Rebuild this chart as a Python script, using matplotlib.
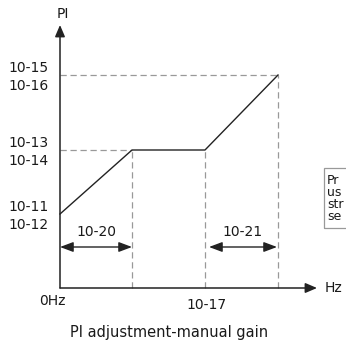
import matplotlib
matplotlib.use("Agg")
import matplotlib.pyplot as plt

plt.rcParams['font.family'] = ['DejaVu Sans']

# Curve break points (x: output frequency, y: PI value), schematic units
freq = [0, 72, 145, 218]
pi_val = [74, 138, 138, 213]

# y-axis labels (two per level) and x-axis labels
y_labels = [("10-11", "10-12"), ("10-13", "10-14"), ("10-15", "10-16")]
y_levels = [74, 138, 213]
x_labels = ["0Hz", "10-17"]
x_label_pos = [-8, 146]
span_labels = ["10-20", "10-21"]
span_ranges = [(0, 72), (149, 217)]

fig = plt.figure(figsize=(3.46, 3.43), dpi=100)
ax = fig.add_axes([0, 0, 1, 1])
ax.set_xlim(-60, 286)
ax.set_ylim(-55, 288)
ax.axis("off")

fs = 10
tc = "#1a1a1a"

# axes with arrows
ax.annotate("", xy=(0, 263), xytext=(0, 0),
            arrowprops=dict(arrowstyle="-|>,head_width=0.3,head_length=0.7",
                            color="#222222", lw=1.1, shrinkA=0, shrinkB=0))
ax.annotate("", xy=(257, 0), xytext=(0, 0),
            arrowprops=dict(arrowstyle="-|>,head_width=0.3,head_length=0.7",
                            color="#222222", lw=1.1, shrinkA=0, shrinkB=0))
ax.text(3, 274, "PI", fontsize=fs, color=tc, ha="center", va="center")
ax.text(265, 0, "Hz", fontsize=fs, color=tc, ha="left", va="center")

# dashed guide lines
dash = dict(color="#999999", lw=0.9, linestyle=(0, (5, 3)))
ax.plot([0, freq[1]], [pi_val[1], pi_val[1]], **dash)
ax.plot([0, freq[3]], [pi_val[3], pi_val[3]], **dash)
ax.plot([freq[1], freq[1]], [0, pi_val[1]], **dash)
ax.plot([freq[2], freq[2]], [0, pi_val[2]], **dash)
ax.plot([freq[3], freq[3]], [0, pi_val[3]], **dash)

# curve
ax.plot(freq, pi_val, color="#222222", lw=1.0)

# y labels
for (a, b), lv in zip(y_labels, y_levels):
    ax.text(-31, lv + 7, a, fontsize=fs, color=tc, ha="center", va="center")
    ax.text(-31, lv - 11, b, fontsize=fs, color=tc, ha="center", va="center")

# x labels
ax.text(x_label_pos[0], -13, x_labels[0], fontsize=fs, color=tc, ha="center", va="center")
ax.text(x_label_pos[1], -17, x_labels[1], fontsize=fs, color=tc, ha="center", va="center")

# span arrows
for lab, (x0, x1) in zip(span_labels, span_ranges):
    ax.annotate("", xy=(x1, 41), xytext=(x0, 41),
                arrowprops=dict(arrowstyle="<|-|>,head_width=0.3,head_length=0.8",
                                color="#222222", lw=1.0, shrinkA=0, shrinkB=0))
    ax.text((x0 + x1) / 2, 56, lab, fontsize=fs, color=tc, ha="center", va="center")

# title
ax.text(109, -44, "PI adjustment-manual gain", fontsize=10.5, color=tc,
        ha="center", va="center")

# clipped note box at right edge
ax.add_patch(plt.Rectangle((264, 60), 40, 60, fill=False,
                           edgecolor="#999999", lw=0.9, clip_on=True))
ax.text(267, 114, "Pr\nus\nstr\nse", fontsize=9, color=tc, ha="left",
        va="top", linespacing=0.9)

fig.savefig("out.png", dpi=100)
